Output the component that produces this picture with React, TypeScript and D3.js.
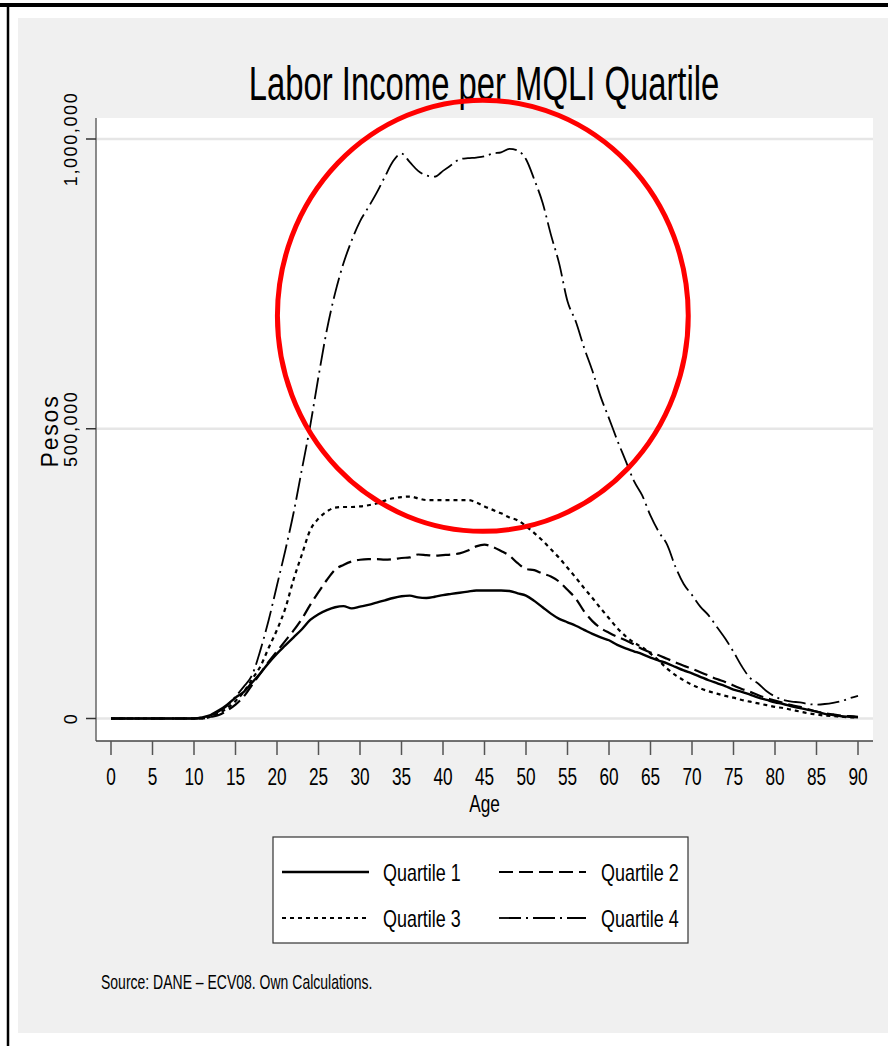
import React from "react";
import * as d3 from "d3";

// ---- Data (thousands of pesos, ages 0..90) ----
const ages: number[] = d3.range(0, 91);

const quartile1: number[] = [
  0, 0, 0, 0, 0, 0, 0, 0, 0, 0, 0, 2, 6, 14, 24, 36, 46, 62, 78, 96,
  112, 126, 140, 154, 170, 180, 187, 192, 194, 190, 193, 196, 200, 204, 208, 211, 212, 209, 208, 210,
  213, 215, 217, 219, 221, 221, 221, 221, 220, 216, 212, 203, 192, 181, 172, 166, 160, 153, 146, 140,
  135, 127, 121, 116, 111, 105, 100, 95, 89, 83, 78, 72, 66, 61, 56, 50, 46, 41, 36, 32,
  28, 25, 21, 18, 15, 12, 8, 6, 4, 3, 2,
];

const quartile2: number[] = [
  0, 0, 0, 0, 0, 0, 0, 0, 0, 0, 0, 0, 3, 6, 14, 24, 38, 58, 78, 98,
  116, 134, 152, 172, 196, 218, 239, 257, 265, 271, 274, 275, 275, 274, 275, 277, 278, 283, 282, 281,
  282, 283, 285, 290, 297, 300, 296, 289, 281, 268, 258, 256, 250, 245, 236, 222, 207, 185, 168, 156,
  148, 141, 135, 128, 120, 114, 109, 103, 97, 91, 86, 80, 74, 68, 63, 57, 51, 46, 40, 35,
  31, 27, 23, 20, 16, 12, 9, 7, 5, 4, 3,
];

const quartile3: number[] = [
  0, 0, 0, 0, 0, 0, 0, 0, 0, 0, 0, 0, 3, 9, 18, 30, 46, 68, 90, 122,
  153, 190, 240, 283, 325, 345, 357, 364, 365, 365, 366, 368, 371, 376, 380, 382, 383, 380, 377, 377,
  377, 377, 377, 377, 373, 366, 360, 354, 347, 342, 332, 320, 307, 292, 277, 260, 243, 225, 208, 190,
  173, 156, 142, 131, 123, 112, 100, 86, 75, 66, 58, 52, 47, 43, 39, 36, 32, 29, 26, 23,
  20, 18, 15, 12, 9, 7, 5, 4, 3, 2, 2,
];

const quartile4: number[] = [
  0, 0, 0, 0, 0, 0, 0, 0, 0, 0, 0, 2, 5, 12, 22, 38, 55, 75, 118, 170,
  230, 290, 355, 430, 505, 590, 670, 734, 785, 825, 858, 882, 907, 935, 962, 975, 960, 945, 937, 935,
  945, 955, 965, 967, 968, 970, 975, 977, 983, 980, 965, 930, 890, 835, 785, 720, 685, 640, 600, 555,
  518, 480, 445, 410, 385, 350, 322, 300, 262, 232, 213, 193, 178, 158, 138, 115, 90, 70, 60, 47,
  38, 32, 29, 28, 25, 24, 25, 27, 30, 35, 39,
];

const seriesNames: string[] = ["Quartile 1", "Quartile 2", "Quartile 3", "Quartile 4"];
const xTicks: number[] = d3.range(0, 91, 5);
const yTicks: number[] = [0, 500000, 1000000];
const yTickLabels: string[] = ["0", "500,000", "1,000,000"];

// highlight ring drawn over the peak region (in data units: age, pesos)
const highlightCenter: [number, number] = [44.8, 695000];
const highlightRadii: [number, number] = [24.75, 372000];

const FONT = "'Liberation Sans', Arial, sans-serif";

function SText(props: {
  x: number; y: number; size: number; sx: number; anchor?: string; children: React.ReactNode;
}) {
  const { x, y, size, sx, anchor = "start", children } = props;
  return (
    <g transform={`translate(${x},${y}) scale(${sx},1)`}>
      <text x={0} y={0} fontSize={size} fontFamily={FONT} textAnchor={anchor} fill="#000">
        {children}
      </text>
    </g>
  );
}

export default function App() {
  const W = 888, H = 1046;
  const plotL = 96, plotR = 873, plotT = 118, plotB = 741;
  const x = d3.scaleLinear().domain([0, 90]).range([111, 858]);
  const y = d3.scaleLinear().domain([0, 1000000]).range([718.5, 139]);

  const line = d3
    .line<number>()
    .x((_, i) => x(ages[i]))
    .y((d) => y(d * 1000))
    .curve(d3.curveMonotoneX);

  const styles = [
    { data: quartile1, dash: "none", w: 2.4 },
    { data: quartile2, dash: "14,6", w: 2.2 },
    { data: quartile3, dash: "4,4", w: 2.2 },
    { data: quartile4, dash: "22,5,2,5", w: 1.8 },
  ];

  const legendItems = [
    { lx: 282, ty: 872, tx: 383 },
    { lx: 499, ty: 872, tx: 601 },
    { lx: 282, ty: 918, tx: 383 },
    { lx: 499, ty: 918, tx: 601 },
  ];

  const cx = x(highlightCenter[0]);
  const cy = y(highlightCenter[1]);
  const rx = x(highlightRadii[0]) - x(0);
  const ry = y(0) - y(highlightRadii[1]);

  return (
    <svg
      width={W}
      height={H}
      style={{ position: "absolute", left: 0, top: 0, display: "block" }}
    >
      <rect x={0} y={0} width={W} height={H} fill="#fff" />
      {/* outer frame */}
      <rect x={18} y={18} width={W - 18} height={1033 - 18} fill="#f0f0f0" />
      <line x1={0} x2={W} y1={5} y2={5} stroke="#000" strokeWidth={4} />
      <line x1={8} x2={8} y1={3} y2={H} stroke="#000" strokeWidth={2.5} />

      {/* plot region */}
      <rect x={plotL} y={plotT} width={plotR - plotL} height={plotB - plotT} fill="#fff" />
      {yTicks.map((t) => (
        <line key={"g" + t} x1={plotL} x2={plotR} y1={y(t)} y2={y(t)} stroke="#e6e6e6" strokeWidth={2.5} />
      ))}

      {/* axes */}
      <line x1={plotL} x2={plotL} y1={plotT} y2={plotB} stroke="#666" strokeWidth={1.5} />
      <line x1={plotL} x2={plotR} y1={plotB} y2={plotB} stroke="#444" strokeWidth={1.5} />
      {yTicks.map((t, i) => (
        <g key={"yt" + t}>
          <line x1={86} x2={plotL} y1={y(t)} y2={y(t)} stroke="#333" strokeWidth={1.5} />
          <text
            transform={`translate(77,${y(t)}) rotate(-90)`}
            fontSize={18}
            fontFamily={FONT}
            letterSpacing={1.6}
            textAnchor="middle"
            fill="#000"
          >
            {yTickLabels[i]}
          </text>
        </g>
      ))}
      <text
        transform={`translate(58,431) rotate(-90)`}
        fontSize={23}
        fontFamily={FONT}
        letterSpacing={1.8}
        textAnchor="middle"
        fill="#000"
      >
        Pesos
      </text>
      {xTicks.map((t) => (
        <g key={"xt" + t}>
          <line x1={x(t)} x2={x(t)} y1={plotB} y2={755} stroke="#555" strokeWidth={1.5} />
          <SText x={x(t)} y={785} size={23} sx={0.75} anchor="middle">{String(t)}</SText>
        </g>
      ))}
      <SText x={484.5} y={812} size={23} sx={0.75} anchor="middle">Age</SText>

      {/* title */}
      <SText x={484} y={100} size={49} sx={0.67} anchor="middle">Labor Income per MQLI Quartile</SText>

      {/* series */}
      {styles.map((s, i) => (
        <path
          key={"s" + i}
          d={line(s.data) || ""}
          fill="none"
          stroke="#000"
          strokeWidth={s.w}
          strokeDasharray={s.dash}
          strokeLinejoin="round"
        />
      ))}

      {/* red highlight ring */}
      <ellipse cx={cx} cy={cy} rx={rx} ry={ry} fill="none" stroke="#ff0000" strokeWidth={5} />

      {/* legend */}
      <rect x={273} y={837} width={415} height={106} fill="#fff" stroke="#333" strokeWidth={1.2} />
      {legendItems.map((it, i) => (
        <g key={"lg" + i}>
          <line
            x1={it.lx}
            x2={it.lx + 87}
            y1={it.ty}
            y2={it.ty}
            stroke="#000"
            strokeWidth={styles[i].w}
            strokeDasharray={styles[i].dash}
          />
          <SText x={it.tx} y={it.ty + 8.5} size={23} sx={0.78}>{seriesNames[i]}</SText>
        </g>
      ))}

      {/* source */}
      <SText x={101} y={989} size={20} sx={0.7}>Source: DANE – ECV08. Own Calculations.</SText>
    </svg>
  );
}
